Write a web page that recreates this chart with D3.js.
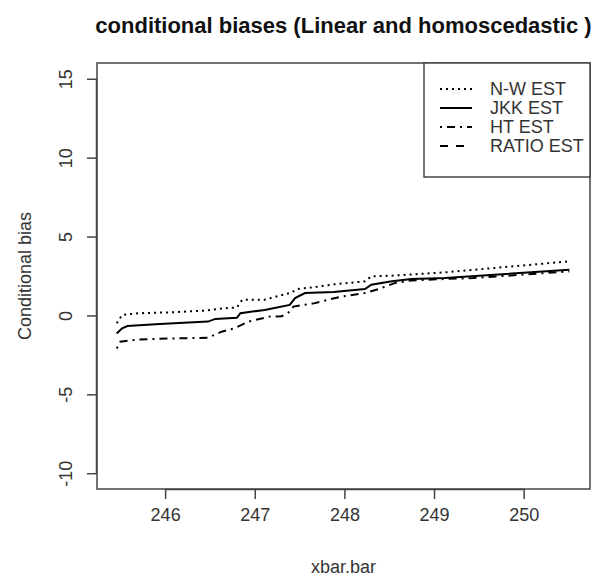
<!DOCTYPE html>
<html lang="en">
<head>
  <meta charset="UTF-8">
  <title>conditional biases</title>
  <script src="https://d3js.org/d3.v7.min.js"></script>
  <style>
    body { margin: 0; background: #fff; }
    svg text { font-family: "Liberation Sans", Arial, sans-serif; fill: #333; }
  </style>
</head>
<body>
  <svg id="chart" width="605" height="579"></svg>

  <script>
    // values
    let nwX  = [245.46, 245.52, 245.70, 246.07, 246.45, 246.67, 246.80, 246.86, 247.11, 247.41, 247.47, 247.67, 247.88, 248.23, 248.30, 248.53, 249.12, 250.51];
    let nwY  = [-0.50, 0.03, 0.14, 0.20, 0.31, 0.46, 0.50, 0.99, 1.00, 1.45, 1.67, 1.80, 1.97, 2.16, 2.48, 2.52, 2.73, 3.43];

    let jkkX = [245.46, 245.52, 245.58, 245.89, 246.26, 246.48, 246.56, 246.80, 246.84, 247.11, 247.39, 247.45, 247.56, 247.88, 248.23, 248.30, 248.53, 248.75, 249.12, 250.51];
    let jkkY = [-1.14, -0.82, -0.67, -0.56, -0.44, -0.39, -0.22, -0.15, 0.14, 0.35, 0.67, 1.10, 1.42, 1.48, 1.67, 1.95, 2.16, 2.31, 2.37, 2.90];

    let htX  = [245.46, 245.50, 245.70, 246.07, 246.48, 246.63, 246.78, 246.93, 247.17, 247.30, 247.39, 247.43, 247.67, 247.82, 247.97, 248.23, 248.38, 248.56, 248.75, 249.12, 249.44, 250.51];
    let htY  = [-2.10, -1.67, -1.52, -1.46, -1.41, -1.03, -0.80, -0.39, -0.07, -0.05, 0.24, 0.56, 0.78, 1.00, 1.20, 1.42, 1.67, 2.05, 2.22, 2.31, 2.37, 2.79];

    let xTicks = [246, 247, 248, 249, 250];
    let yTicks = [-10, -5, 0, 5, 10, 15];

    let legendNames = ["N-W EST", "JKK EST", "HT EST", "RATIO EST"];
    let legendDash  = ["2,4", null, "2,5,8,5", "8,8"];

    let svg = d3.select("#chart");
    let margin = { top: 63, right: 15, bottom: 90, left: 97 };
    let width = 605, height = 579;
    let axisColor = "#444";

    let x = d3.scaleLinear().domain([245.24, 250.74]).range([margin.left, width - margin.right]);
    let y = d3.scaleLinear().domain([-11, 16]).range([height - margin.bottom, margin.top]);

    // title
    svg.append("text")
      .attr("x", (margin.left + width - margin.right) / 2)
      .attr("y", 33)
      .attr("text-anchor", "middle")
      .style("font-size", "22px")
      .style("font-weight", "bold")
      .style("fill", "#111")
      .text("conditional biases (Linear and homoscedastic )");

    // x axis
    let xAxis = svg.append("g")
      .attr("transform", `translate(0,${height - margin.bottom})`)
      .call(d3.axisBottom(x).tickValues(xTicks).tickFormat(d => String(d)).tickSize(10).tickSizeOuter(0));
    xAxis.select(".domain").attr("d", `M${x(246)},0.5H${x(250)}`);
    xAxis.selectAll("line").attr("stroke", axisColor).attr("stroke-width", 1.5);
    xAxis.selectAll(".domain").attr("stroke", axisColor).attr("stroke-width", 1.5);
    xAxis.selectAll("text").style("font-size", "18px").attr("y", 0).attr("dy", 0)
      .attr("transform", "translate(0,32)");

    // y axis, labels turned like R's default
    let yAxis = svg.append("g")
      .attr("transform", `translate(${margin.left},0)`)
      .call(d3.axisLeft(y).tickValues(yTicks).tickFormat(d => String(d)).tickSize(10).tickSizeOuter(0));
    yAxis.select(".domain").attr("d", `M-0.5,${y(15)}V${y(-10)}`);
    yAxis.selectAll("line").attr("stroke", axisColor).attr("stroke-width", 1.5);
    yAxis.selectAll(".domain").attr("stroke", axisColor).attr("stroke-width", 1.5);
    yAxis.selectAll("text")
      .style("font-size", "18px")
      .attr("x", null).attr("dy", null)
      .attr("text-anchor", "middle")
      .attr("transform", "translate(-25,0) rotate(-90)");

    // box
    svg.append("rect")
      .attr("x", margin.left)
      .attr("y", margin.top)
      .attr("width", width - margin.right - margin.left)
      .attr("height", height - margin.bottom - margin.top)
      .attr("fill", "none")
      .attr("stroke", axisColor)
      .attr("stroke-width", 1.5);

    // axis titles
    svg.append("text")
      .attr("x", (margin.left + width - margin.right) / 2)
      .attr("y", 573)
      .attr("text-anchor", "middle")
      .style("font-size", "18px")
      .text("xbar.bar");

    svg.append("text")
      .attr("transform", `translate(31,${(margin.top + height - margin.bottom) / 2}) rotate(-90)`)
      .attr("text-anchor", "middle")
      .style("font-size", "18px")
      .text("Conditional bias");

    // lines
    let line = d3.line().x(d => x(d[0])).y(d => y(d[1]));
    let series = [
      { xs: nwX, ys: nwY, dash: legendDash[0] },
      { xs: jkkX, ys: jkkY, dash: legendDash[1] },
      { xs: htX, ys: htY, dash: legendDash[2] }
    ];
    series.forEach(s => {
      svg.append("path")
        .datum(d3.zip(s.xs, s.ys))
        .attr("d", line)
        .attr("fill", "none")
        .attr("stroke", "#000")
        .attr("stroke-width", 2)
        .attr("stroke-dasharray", s.dash);
    });

    // legend
    let lg = svg.append("g");
    lg.append("rect")
      .attr("x", 424).attr("y", margin.top)
      .attr("width", width - margin.right - 424)
      .attr("height", 114)
      .attr("fill", "#fff")
      .attr("stroke", axisColor)
      .attr("stroke-width", 1.5);

    legendNames.forEach((name, i) => {
      let ly = 89 + i * 19;
      lg.append("line")
        .attr("x1", 440).attr("x2", 472)
        .attr("y1", ly).attr("y2", ly)
        .attr("stroke", "#000")
        .attr("stroke-width", 2)
        .attr("stroke-dasharray", legendDash[i]);
      lg.append("text")
        .attr("x", 490).attr("y", ly)
        .attr("dy", "0.35em")
        .style("font-size", "18px")
        .text(name);
    });
  </script>
</body>
</html>
